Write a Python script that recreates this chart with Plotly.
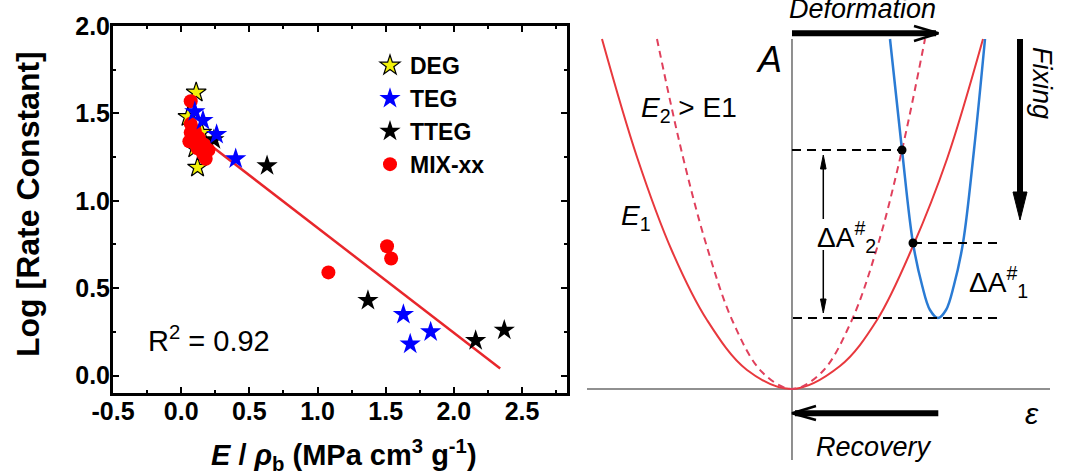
import plotly.graph_objects as go

FONT = "Liberation Sans, Arial, Helvetica, sans-serif"

# ---------------- left panel: data ----------------
deg_x = [0.11, 0.05, 0.15, 0.10, 0.12]
deg_y = [1.62, 1.48, 1.39, 1.30, 1.19]
teg_x = [0.10, 0.16, 0.26, 0.40, 1.63, 1.68, 1.83]
teg_y = [1.51, 1.46, 1.38, 1.24, 0.35, 0.18, 0.25]
tteg_x = [0.24, 0.63, 1.37, 2.16, 2.37]
tteg_y = [1.35, 1.20, 0.43, 0.20, 0.26]
mix_x = [0.07, 0.07, 0.10, 0.07, 0.06, 0.13, 0.12, 0.17, 0.20, 0.16, 0.18, 1.08, 1.51, 1.54]
mix_y = [1.57, 1.44, 1.40, 1.39, 1.34, 1.36, 1.30, 1.32, 1.29, 1.27, 1.24, 0.59, 0.74, 0.67]
fit_x = [0.06, 2.34]
fit_y = [1.41, 0.04]
r2_value = "0.92"

x_tick_vals = [-0.5, 0.0, 0.5, 1.0, 1.5, 2.0, 2.5]
x_tick_text = ["-0.5", "0.0", "0.5", "1.0", "1.5", "2.0", "2.5"]
y_tick_vals = [0.0, 0.5, 1.0, 1.5, 2.0]
y_tick_text = ["0.0", "0.5", "1.0", "1.5", "2.0"]

# ---------------- right panel: schematic curves ----------------
e1_x = [-1.90, -1.55, -1.20, -0.85, -0.45, 0.0, 0.48, 0.85, 1.21, 1.55, 1.91]
e1_y = [3.50, 2.32, 1.38, 0.69, 0.19, 0.0, 0.23, 0.69, 1.43, 2.30, 3.50]
e2_x = [-1.35, -1.10, -0.85, -0.59, -0.30, 0.0, 0.30, 0.59, 0.85, 1.10, 1.33]
e2_y = [3.50, 2.36, 1.42, 0.67, 0.17, 0.0, 0.17, 0.67, 1.41, 2.39, 3.50]
blue_x = [0.98, 1.10, 1.21, 1.30, 1.38, 1.46, 1.54, 1.62, 1.71, 1.82, 1.93]
blue_y = [3.50, 2.39, 1.46, 1.04, 0.79, 0.71, 0.79, 1.04, 1.46, 2.39, 3.50]
guide_x = [0.0, 1.10, None, 1.21, 2.05, None, 0.01, 2.10]
guide_y = [2.39, 2.39, None, 1.46, 1.46, None, 0.71, 0.71]
dot_x = [1.10, 1.21]
dot_y = [2.39, 1.46]
axis_h_x = [-2.05, 2.58]
axis_h_y = [0.0, 0.0]
axis_v_x = [0.0, 0.0]
axis_v_y = [-0.71, 3.50]

# arrows (shaft + head) in schematic units
deform_shaft_x = [0.0, 1.44]
deform_shaft_y = [3.557, 3.557]
deform_head_x = [1.22, 1.465, 1.22]
deform_head_y = [3.63, 3.557, 3.48]
recov_shaft_x = [1.463, 0.03]
recov_shaft_y = [-0.243, -0.243]
recov_head_x = [0.24, 0.0, 0.24]
recov_head_y = [-0.17, -0.243, -0.31]
fix_shaft_x = [2.28, 2.28]
fix_shaft_y = [3.50, 1.90]
fix_head_x = [2.21, 2.35, 2.28, 2.21]
fix_head_y = [1.97, 1.97, 1.69, 1.97]
dA2_up_x = [0.313, 0.313]
dA2_up_y = [1.70, 2.28]
dA2_up_head_x = [0.285, 0.341, 0.313, 0.285]
dA2_up_head_y = [2.20, 2.20, 2.34, 2.20]
dA2_dn_x = [0.313, 0.313]
dA2_dn_y = [1.39, 0.82]
dA2_dn_head_x = [0.285, 0.341, 0.313, 0.285]
dA2_dn_head_y = [0.90, 0.90, 0.76, 0.90]

fig = go.Figure()

# ---- left panel traces ----
fig.add_trace(go.Scatter(x=fit_x, y=fit_y, mode="lines", line=dict(color="#e8262b", width=2.5),
                         showlegend=False, xaxis="x", yaxis="y"))
fig.add_trace(go.Scatter(x=deg_x, y=deg_y, mode="markers", name="DEG", legendrank=1,
                         marker=dict(symbol="star", size=15, color="#f2f20a",
                                     line=dict(color="black", width=1.2))))
fig.add_trace(go.Scatter(x=tteg_x, y=tteg_y, mode="markers", name="TTEG", legendrank=3,
                         marker=dict(symbol="star", size=16, color="black")))
fig.add_trace(go.Scatter(x=mix_x, y=mix_y, mode="markers", name="MIX-xx", legendrank=4,
                         marker=dict(symbol="circle", size=14, color="#ff0000")))
fig.add_trace(go.Scatter(x=teg_x, y=teg_y, mode="markers", name="TEG", legendrank=2,
                         marker=dict(symbol="star", size=16, color="#0000ff")))

# ---- right panel traces ----
def add2(x, y, **kw):
    fig.add_trace(go.Scatter(x=x, y=y, xaxis="x2", yaxis="y2", showlegend=False,
                             hoverinfo="skip", **kw))

add2(axis_h_x, axis_h_y, mode="lines", line=dict(color="#6b6b6b", width=1.5))
add2(axis_v_x, axis_v_y, mode="lines", line=dict(color="#6b6b6b", width=1.5))
add2(e1_x, e1_y, mode="lines", line=dict(color="#e8383d", width=2, shape="spline", smoothing=1.0))
add2(e2_x, e2_y, mode="lines", line=dict(color="#e0405c", width=2, dash="7px,5px",
                                          shape="spline", smoothing=1.0))
add2(blue_x, blue_y, mode="lines", line=dict(color="#2a7bd4", width=2.5, shape="spline", smoothing=1.0))
add2(guide_x, guide_y, mode="lines", line=dict(color="black", width=2, dash="9px,6px"))
add2(dot_x, dot_y, mode="markers", marker=dict(color="black", size=9))
# arrows
add2(deform_shaft_x, deform_shaft_y, mode="lines", line=dict(color="black", width=6))
add2(deform_head_x, deform_head_y, mode="lines", line=dict(color="black", width=2.5))
add2(recov_shaft_x, recov_shaft_y, mode="lines", line=dict(color="black", width=6))
add2(recov_head_x, recov_head_y, mode="lines", line=dict(color="black", width=2.5))
add2(fix_shaft_x, fix_shaft_y, mode="lines", line=dict(color="black", width=6))
add2(fix_head_x, fix_head_y, mode="lines", fill="toself", fillcolor="black", line=dict(color="black", width=1))
add2(dA2_up_x, dA2_up_y, mode="lines", line=dict(color="black", width=1.5))
add2(dA2_up_head_x, dA2_up_head_y, mode="lines", fill="toself", fillcolor="black", line=dict(color="black", width=1))
add2(dA2_dn_x, dA2_dn_y, mode="lines", line=dict(color="black", width=1.5))
add2(dA2_dn_head_x, dA2_dn_head_y, mode="lines", fill="toself", fillcolor="black", line=dict(color="black", width=1))

axis_common = dict(showline=True, linewidth=3, linecolor="black", mirror="allticks",
                   ticks="inside", ticklen=6, tickwidth=2, tickcolor="black",
                   showgrid=False, zeroline=False, automargin=False,
                   tickfont=dict(family=FONT, size=25, color="black", weight="bold"))

annotations = [
    dict(text="<b>Log [Rate Constant]</b>", xref="paper", yref="paper", x=28 / 1080, y=0.5696,
         xanchor="center", yanchor="middle",
         textangle=-90, showarrow=False, font=dict(family=FONT, size=32, color="black")),
    dict(text="<b><i>E</i> / <i>ρ</i><sub>b</sub> (MPa cm<sup>3</sup> g<sup>-1</sup>)</b>",
         xref="paper", yref="paper", x=344 / 1080, y=1 - 455 / 474,
         xanchor="center", yanchor="middle", showarrow=False,
         font=dict(family=FONT, size=29, color="black")),
    dict(text="R<sup>2</sup> = " + r2_value, xref="x", yref="y", x=0.205, y=0.21,
         xanchor="center", yanchor="middle",
         showarrow=False, font=dict(family=FONT, size=29, color="black")),
]

def ann2(text, x, y, size, **kw):
    d = dict(text=text, xref="x2", yref="y2", x=x, y=y, showarrow=False,
             xanchor="center", yanchor="middle",
             font=dict(family=FONT, size=size, color="black"))
    d.update(kw)
    annotations.append(d)

ann2("<i>Deformation</i>", 0.71, 3.80, 27)
ann2("<i>A</i>", -0.23, 3.30, 36)
ann2("<i>E</i><sub>2</sub> > E1", -1.03, 2.80, 28)
ann2("<i>E</i><sub>1</sub>", -1.56, 1.72, 28)
ann2("ΔA<sup>#</sup><sub>2</sub>", 0.55, 1.52, 28)
ann2("ΔA<sup>#</sup><sub>1</sub>", 2.06, 1.07, 28)
ann2("<i>Fixing</i>", 2.50, 3.06, 27, textangle=90)
ann2("<i>Recovery</i>", 0.82, -0.58, 27)
ann2("<i>ε</i>", 2.40, -0.24, 30)

fig.update_layout(
    template="none",
    width=1080, height=474,
    margin=dict(l=0, r=0, t=0, b=0, pad=0, autoexpand=False),
    paper_bgcolor="white", plot_bgcolor="white",
    font=dict(family=FONT, color="black"),
    hovermode=False,
    xaxis=dict(domain=[113 / 1080, 567 / 1080], range=[-0.5, 2.83], anchor="y",
               tickmode="array", tickvals=x_tick_vals, ticktext=x_tick_text,
               ticklabelstandoff=-6,
               minor=dict(ticks="inside", ticklen=3, tickwidth=2, tickcolor="black",
                          tick0=0, dtick=0.25, showgrid=False),
               **axis_common),
    yaxis=dict(domain=[1 - 393 / 474, 1 - 26 / 474], range=[-0.1, 2.0], anchor="x",
               tickmode="array", tickvals=y_tick_vals, ticktext=y_tick_text,
               ticklabelstandoff=-5,
               minor=dict(ticks="inside", ticklen=3, tickwidth=2, tickcolor="black",
                          tick0=0, dtick=0.25, showgrid=False),
               **axis_common),
    xaxis2=dict(domain=[0.5324, 1.0], range=[-2.17, 2.88], anchor="y2", visible=False),
    yaxis2=dict(domain=[0, 1], range=[-0.85, 3.89], anchor="x2", visible=False),
    legend=dict(x=370 / 1080, y=1 - 44 / 474, xanchor="left", yanchor="top",
                bgcolor="rgba(0,0,0,0)", font=dict(family=FONT, size=23, color="black", weight="bold"),
                itemsizing="trace", tracegroupgap=0),
    annotations=annotations,
)

fig.write_html("out.html",
               config={"displayModeBar": False, "staticPlot": True},
               post_script="document.body.style.margin='0';document.body.style.padding='0';")
